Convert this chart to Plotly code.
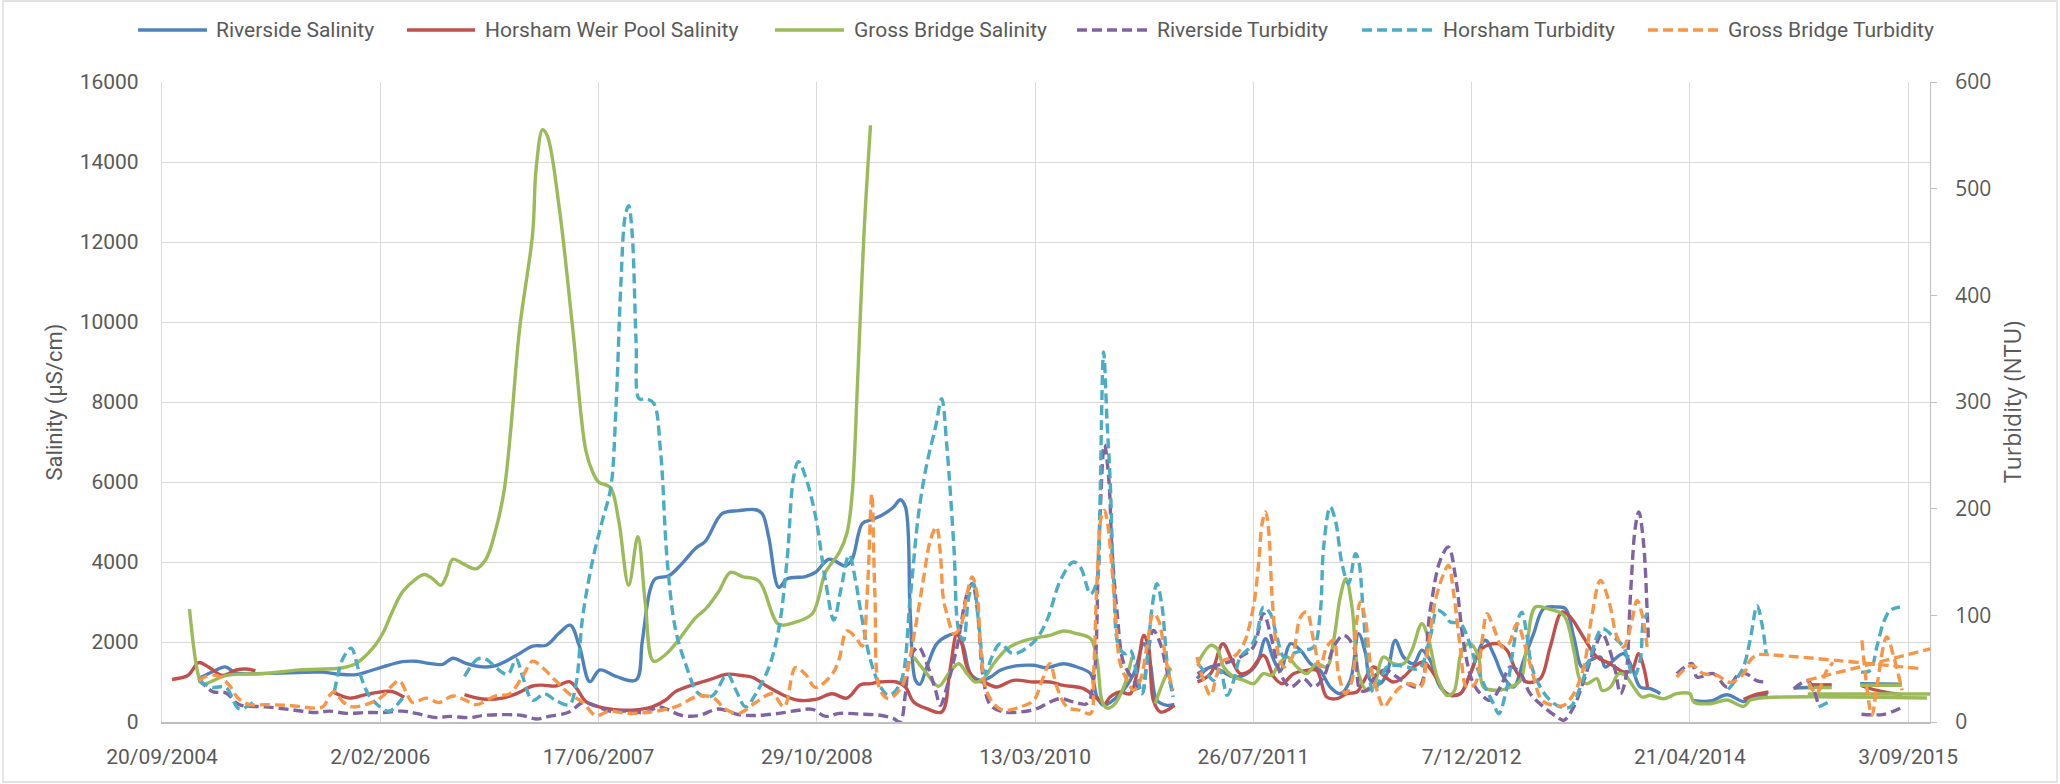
import plotly.graph_objects as go

# ---------------------------------------------------------------------------
# Monitoring data: (sample date, value).  (None, None) marks a break in a record.
# Salinity in uS/cm (left axis), turbidity in NTU (right axis).
# ---------------------------------------------------------------------------
GAP = (None, None)

riverside_salinity = [
    ("2004-12-13", 1085), ("2005-01-22", 1300), ("2005-02-12", 1378), ("2005-03-09", 1226),
    ("2005-05-16", 1215), ("2005-09-23", 1248), ("2005-10-31", 1193), ("2005-12-09", 1183),
    ("2005-12-31", 1248), ("2006-02-08", 1378), ("2006-03-25", 1508), ("2006-04-25", 1519),
    ("2006-05-25", 1465), ("2006-06-25", 1443), ("2006-07-18", 1595), ("2006-08-17", 1465),
    ("2006-09-25", 1378), ("2006-10-25", 1410), ("2006-12-10", 1660), ("2007-01-17", 1899),
    ("2007-02-17", 1920), ("2007-03-19", 2224), ("2007-04-13", 2420), ("2007-05-04", 1899),
    ("2007-05-28", 1009), ("2007-06-20", 1302), ("2007-07-27", 1139), ("2007-09-11", 1052),
    ("2007-09-25", 2000), ("2007-10-13", 3300), ("2007-10-25", 3580), ("2007-11-25", 3656),
    ("2007-12-25", 3960), ("2008-01-25", 4339), ("2008-02-17", 4524), ("2008-03-26", 5208),
    ("2008-05-03", 5284), ("2008-06-11", 5306), ("2008-06-26", 5208), ("2008-07-11", 4611),
    ("2008-08-03", 3364), ("2008-08-22", 3580), ("2008-10-03", 3635), ("2008-10-26", 3743),
    ("2008-11-26", 4069), ("2009-01-03", 3906), ("2009-01-18", 4069), ("2009-02-10", 4958),
    ("2009-03-01", 5050), ("2009-03-27", 5170), ("2009-04-23", 5375), ("2009-05-08", 5558),
    ("2009-05-20", 5375), ("2009-05-31", 2708), ("2009-06-12", 1042), ("2009-06-22", 942),
    ("2009-07-08", 1375), ("2009-07-31", 1958), ("2009-08-27", 2167), ("2009-09-15", 2208),
    ("2009-09-30", 1875), ("2009-10-16", 1208), ("2009-11-08", 1042), ("2009-12-01", 1125),
    ("2009-12-23", 1292), ("2010-01-22", 1392), ("2010-03-10", 1417), ("2010-04-09", 1358),
    ("2010-05-17", 1458), ("2010-06-17", 1375), ("2010-07-18", 1208), ("2010-08-02", 625),
    ("2010-08-17", 417), ("2010-09-24", 708), ("2010-10-25", 1208), ("2010-11-17", 1958),
    ("2010-12-02", 1458), ("2010-12-17", 542), ("2011-01-09", 417), ("2011-01-26", 442),
    GAP,
    ("2011-03-19", 1083), ("2011-04-19", 1375), ("2011-05-11", 1292), ("2011-06-11", 1125),
    ("2011-07-11", 1208), ("2011-08-03", 1458), ("2011-08-23", 2083), ("2011-09-11", 1542),
    ("2011-09-26", 1292), ("2011-10-19", 1958), ("2011-11-11", 1792), ("2011-12-04", 1458),
    ("2011-12-26", 1292), ("2012-01-18", 875), ("2012-02-10", 708), ("2012-03-04", 1042),
    ("2012-03-23", 2208), ("2012-04-08", 1708), ("2012-04-19", 1042), ("2012-05-11", 958),
    ("2012-05-27", 1208), ("2012-06-15", 2042), ("2012-07-04", 1625), ("2012-07-27", 1458),
    ("2012-08-15", 1792), ("2012-09-03", 1542), ("2012-09-26", 875), ("2012-10-19", 667),
    ("2012-11-11", 708), ("2012-12-04", 1208), ("2013-01-07", 2042), ("2013-01-26", 1708),
    ("2013-02-18", 1125), ("2013-03-13", 875), ("2013-04-05", 1542), ("2013-04-28", 2208),
    ("2013-05-21", 2833), ("2013-06-21", 2875), ("2013-07-10", 2833), ("2013-07-29", 2125),
    ("2013-08-17", 1375), ("2013-09-05", 1542), ("2013-09-28", 1625), ("2013-10-09", 1375),
    ("2013-10-28", 1542), ("2013-11-20", 1708), ("2013-12-09", 1375), ("2013-12-28", 875),
    ("2014-01-20", 833), ("2014-02-12", 708),
    GAP,
    ("2014-04-26", 542), ("2014-06-07", 525), ("2014-07-15", 680), ("2014-08-22", 510),
    ("2014-09-13", 600), ("2014-10-16", 705),
    GAP,
    ("2014-12-15", 850), ("2015-03-10", 880),
    GAP,
    ("2015-05-16", 955), ("2015-08-19", 945),
]

horsham_salinity = [
    ("2004-10-13", 1063), ("2004-11-18", 1161), ("2004-11-29", 1302), ("2004-12-13", 1486),
    ("2005-01-07", 1356), ("2005-02-06", 1161), ("2005-03-09", 1302), ("2005-04-01", 1324),
    ("2005-04-22", 1280),
    GAP,
    ("2005-10-15", 760), ("2005-11-23", 597), ("2005-12-31", 684), ("2006-02-08", 760),
    ("2006-03-02", 760), ("2006-03-29", 618),
    GAP,
    ("2006-08-14", 684), ("2006-09-25", 575), ("2006-11-09", 597), ("2006-12-10", 705),
    ("2007-01-17", 900), ("2007-02-07", 922), ("2007-03-11", 900), ("2007-04-11", 1009),
    ("2007-04-26", 868), ("2007-05-19", 510), ("2007-06-18", 380), ("2007-08-02", 304),
    ("2007-09-09", 304), ("2007-10-18", 380), ("2007-11-17", 543), ("2007-12-10", 760),
    ("2008-01-17", 922), ("2008-02-25", 1052), ("2008-04-07", 1193), ("2008-05-11", 1161),
    ("2008-06-03", 1118), ("2008-07-11", 868), ("2008-08-18", 651), ("2008-09-17", 543),
    ("2008-10-26", 564), ("2008-12-03", 705), ("2009-01-06", 597), ("2009-02-06", 930),
    ("2009-03-01", 958), ("2009-03-23", 1000), ("2009-04-30", 1000), ("2009-05-20", 875),
    ("2009-06-08", 500), ("2009-07-08", 333), ("2009-08-11", 250), ("2009-08-30", 1292),
    ("2009-09-15", 2208), ("2009-09-26", 1958), ("2009-10-08", 1375), ("2009-10-27", 1042),
    ("2009-11-15", 1000), ("2009-12-15", 875), ("2010-01-22", 1042), ("2010-03-10", 1000),
    ("2010-04-16", 1000), ("2010-05-17", 917), ("2010-07-02", 833), ("2010-08-02", 583),
    ("2010-08-19", 450), ("2010-09-01", 625), ("2010-09-24", 750), ("2010-10-17", 708),
    ("2010-11-01", 1208), ("2010-11-17", 2167), ("2010-11-28", 1875), ("2010-12-09", 542),
    ("2010-12-25", 250), ("2011-01-09", 292), ("2011-01-26", 417),
    GAP,
    ("2011-03-20", 1000), ("2011-04-19", 1208), ("2011-05-17", 1958), ("2011-06-07", 1542),
    ("2011-06-26", 1208), ("2011-07-19", 1292), ("2011-08-18", 1667), ("2011-09-11", 1125),
    ("2011-09-30", 958), ("2011-10-26", 1208), ("2011-11-25", 1292), ("2011-12-18", 1292),
    ("2012-01-10", 625), ("2012-02-02", 583), ("2012-02-25", 708), ("2012-03-19", 750),
    ("2012-04-03", 1000), ("2012-04-26", 1375), ("2012-05-19", 1167), ("2012-06-11", 1000),
    ("2012-07-04", 1125), ("2012-07-27", 1375), ("2012-08-19", 1500), ("2012-09-11", 1208),
    ("2012-10-11", 708), ("2012-11-11", 708), ("2012-12-04", 1208), ("2012-12-30", 1833),
    ("2013-02-03", 1958), ("2013-02-26", 1792), ("2013-03-20", 1250), ("2013-04-12", 1000),
    ("2013-05-13", 1083), ("2013-06-05", 1875), ("2013-07-02", 2750), ("2013-07-21", 2625),
    ("2013-08-20", 2125), ("2013-09-20", 1625), ("2013-10-20", 1458), ("2013-11-20", 1250),
    ("2013-12-09", 1292), ("2013-12-24", 1708), ("2014-01-05", 1375), ("2014-01-14", 875),
    GAP,
    ("2014-08-22", 560), ("2014-09-13", 667), ("2014-10-18", 750),
    GAP,
    ("2015-01-17", 930), ("2015-03-12", 930),
    GAP,
    ("2015-05-20", 900), ("2015-07-01", 770), ("2015-08-19", 680),
]

gross_bridge_salinity = [
    ("2004-11-22", 2821), ("2004-12-13", 1139), ("2004-12-22", 955), ("2005-02-13", 1161),
    ("2005-05-16", 1215), ("2005-08-01", 1302), ("2005-11-08", 1356), ("2005-12-09", 1465),
    ("2006-01-16", 1845), ("2006-02-08", 2224), ("2006-03-02", 2767), ("2006-03-25", 3255),
    ("2006-04-25", 3581), ("2006-05-14", 3689), ("2006-06-02", 3581), ("2006-06-21", 3418),
    ("2006-07-03", 3635), ("2006-07-18", 4069), ("2006-08-10", 3960), ("2006-09-09", 3830),
    ("2006-10-02", 4069), ("2006-10-25", 4828), ("2006-11-13", 5805), ("2006-11-28", 7324),
    ("2006-12-18", 9819), ("2007-01-17", 12206), ("2007-01-25", 13834), ("2007-02-09", 14810),
    ("2007-02-20", 14648), ("2007-03-19", 12857), ("2007-04-19", 9819), ("2007-05-19", 6781),
    ("2007-06-04", 6239), ("2007-06-17", 6000), ("2007-07-14", 5858), ("2007-08-02", 5045),
    ("2007-08-25", 3418), ("2007-09-15", 4633), ("2007-10-02", 2984), ("2007-10-21", 1519),
    ("2007-11-17", 1682), ("2007-12-14", 2007), ("2008-01-25", 2604), ("2008-02-17", 2821),
    ("2008-03-18", 3255), ("2008-04-14", 3743), ("2008-05-11", 3635), ("2008-06-18", 3526),
    ("2008-08-03", 2441), ("2008-09-10", 2496), ("2008-10-19", 2713), ("2008-11-18", 3743),
    ("2008-12-19", 4231), ("2009-01-06", 4720), ("2009-01-18", 5696), ("2009-01-30", 8409),
    ("2009-02-14", 12206), ("2009-03-01", 14919),
    GAP,
    ("2009-06-08", 1625), ("2009-07-08", 1208), ("2009-08-04", 892), ("2009-08-27", 1208),
    ("2009-09-19", 1458), ("2009-10-08", 1208), ("2009-10-27", 1000), ("2009-11-15", 1083),
    ("2009-12-08", 1458), ("2010-01-08", 1833), ("2010-02-07", 2000), ("2010-03-17", 2108),
    ("2010-04-16", 2167), ("2010-05-17", 2275), ("2010-06-17", 2208), ("2010-07-18", 2083),
    ("2010-08-02", 1542), ("2010-08-13", 542), ("2010-08-24", 350), ("2010-09-09", 420),
    ("2010-10-02", 875), ("2010-10-21", 1625),
    GAP,
    ("2010-12-13", 458), ("2011-01-09", 1208), ("2011-01-19", 1350),
    GAP,
    ("2011-03-20", 1458), ("2011-04-19", 1917), ("2011-05-04", 1833), ("2011-05-19", 1375),
    ("2011-06-11", 1125), ("2011-07-04", 1042), ("2011-07-26", 958), ("2011-08-18", 1208),
    ("2011-09-07", 1167), ("2011-09-18", 1375), ("2011-10-11", 1625), ("2011-11-03", 1375),
    ("2011-11-25", 1208), ("2011-12-18", 1458), ("2012-01-10", 1375), ("2012-01-26", 2042),
    ("2012-02-10", 3125), ("2012-02-23", 3583), ("2012-03-08", 2875), ("2012-03-23", 1208),
    ("2012-04-11", 792), ("2012-04-26", 875), ("2012-05-19", 1625), ("2012-06-11", 1458),
    ("2012-07-04", 1458), ("2012-07-23", 1792), ("2012-08-15", 2458), ("2012-08-31", 2042),
    ("2012-09-19", 1125), ("2012-10-11", 667), ("2012-10-27", 750), ("2012-11-15", 1792),
    ("2012-12-04", 1958), ("2012-12-23", 1625), ("2013-01-03", 875), ("2013-02-03", 792),
    ("2013-03-06", 875), ("2013-03-29", 1042), ("2013-04-12", 1875), ("2013-05-02", 2875),
    ("2013-05-29", 2833), ("2013-07-06", 2667), ("2013-07-29", 1792), ("2013-08-13", 1042),
    ("2013-08-28", 958), ("2013-09-20", 1083), ("2013-10-02", 792), ("2013-10-21", 875),
    ("2013-11-09", 1208), ("2013-11-24", 1167), ("2013-12-13", 875), ("2014-01-01", 625),
    ("2014-01-20", 667), ("2014-02-20", 583), ("2014-03-22", 708), ("2014-04-21", 708),
    ("2014-04-30", 500), ("2014-06-07", 458), ("2014-07-15", 550), ("2014-08-22", 392),
    ("2014-09-06", 542), ("2014-09-29", 600), ("2015-10-16", 600),
    GAP,
    ("2015-01-16", 700), ("2015-10-26", 700),
    GAP,
    ("2015-01-16", 860), ("2015-03-12", 860),
    GAP,
    ("2015-05-16", 920), ("2015-08-19", 920),
]

riverside_turbidity = [
    ("2004-12-13", 40.7), ("2005-01-14", 28.5), ("2005-02-13", 27.3), ("2005-03-16", 16.3),
    ("2005-05-16", 14.2), ("2005-07-16", 11.4), ("2005-09-08", 8.9), ("2005-10-08", 10.2),
    ("2005-11-16", 8.1), ("2005-12-31", 8.9), ("2006-02-08", 8.9), ("2006-03-25", 10.2),
    ("2006-04-25", 8.1), ("2006-06-10", 4.1), ("2006-07-10", 5.3), ("2006-08-25", 4.1),
    ("2006-09-25", 6.1), ("2006-11-25", 6.9), ("2006-12-25", 6.1), ("2007-01-25", 2.8),
    ("2007-02-24", 5.3), ("2007-04-11", 9.4), ("2007-05-12", 18.3), ("2007-06-04", 16.3),
    ("2007-07-12", 10.2), ("2007-08-19", 10.2), ("2007-10-04", 8.9), ("2007-11-02", 14.2),
    ("2007-12-25", 6.1), ("2008-02-02", 6.1), ("2008-03-18", 12.2), ("2008-05-03", 6.9),
    ("2008-06-11", 6.1), ("2008-08-03", 8.1), ("2008-09-17", 11.0), ("2008-10-19", 11.8),
    ("2008-11-18", 5.3), ("2008-12-19", 8.1), ("2009-02-03", 7.5), ("2009-03-23", 6.3),
    ("2009-04-23", 3.1), ("2009-05-08", 0.0), ("2009-05-20", 26.6), ("2009-05-31", 61.0),
    ("2009-06-19", 70.3), ("2009-07-08", 54.7), ("2009-07-28", 29.7), ("2009-08-08", 15.6),
    ("2009-08-23", 32.8), ("2009-09-15", 70.3), ("2009-10-08", 120.0), ("2009-10-20", 130.0),
    ("2009-10-31", 107.8), ("2009-11-15", 39.0), ("2009-12-01", 15.6), ("2009-12-31", 9.4),
    ("2010-02-07", 9.4), ("2010-03-17", 12.5), ("2010-04-16", 18.8), ("2010-05-10", 21.9),
    ("2010-06-09", 18.8), ("2010-07-10", 17.2), ("2010-07-25", 39.0), ("2010-08-06", 164.0),
    ("2010-08-19", 260.0), ("2010-08-29", 227.0), ("2010-09-05", 164.0), ("2010-09-17", 102.0),
    ("2010-10-02", 55.0), ("2010-10-25", 39.0), ("2010-11-13", 26.6), ("2010-11-24", 57.8),
    ("2010-12-09", 85.9), ("2010-12-25", 73.4), ("2011-01-09", 48.4), ("2011-01-23", 26.6),
    GAP,
    ("2011-03-20", 45.3), ("2011-04-19", 51.6), ("2011-05-19", 54.7), ("2011-06-26", 61.0),
    ("2011-07-26", 70.3), ("2011-08-18", 101.6), ("2011-09-03", 82.8), ("2011-09-26", 45.3),
    ("2011-10-19", 32.8), ("2011-11-18", 40.6), ("2011-12-11", 32.8), ("2012-01-03", 42.2),
    ("2012-01-26", 70.3), ("2012-02-18", 81.3), ("2012-03-12", 70.3), ("2012-03-27", 29.7),
    ("2012-04-11", 29.7), ("2012-05-04", 45.3), ("2012-05-27", 48.4), ("2012-06-19", 42.2),
    ("2012-07-12", 35.9), ("2012-08-09", 33.0), ("2012-09-03", 104.7), ("2012-09-26", 151.6),
    ("2012-10-15", 164.0), ("2012-10-31", 136.0), ("2012-11-19", 73.4), ("2012-12-08", 39.0),
    ("2012-12-27", 26.6), ("2013-01-19", 20.3), ("2013-02-11", 32.8), ("2013-03-06", 51.6),
    ("2013-03-29", 45.3), ("2013-04-20", 26.6), ("2013-05-21", 14.1), ("2013-06-21", 4.7),
    ("2013-07-06", 1.6), ("2013-07-29", 14.1), ("2013-08-21", 39.0), ("2013-09-16", 70.3),
    ("2013-10-02", 82.8), ("2013-10-17", 70.3), ("2013-11-01", 48.4), ("2013-11-13", 26.6),
    ("2013-11-24", 39.0), ("2013-12-06", 120.0), ("2013-12-17", 182.8), ("2013-12-25", 196.9),
    ("2014-01-05", 167.0), ("2014-01-13", 104.7), ("2014-01-16", 76.0),
    GAP,
    ("2014-03-22", 45.3), ("2014-04-26", 54.7), ("2014-05-07", 42.2), ("2014-06-14", 45.3),
    ("2014-07-15", 32.8), ("2014-08-14", 46.0), ("2014-08-29", 45.0), ("2014-09-22", 38.6),
    ("2014-10-16", 37.5),
    GAP,
    ("2014-12-15", 31.0), ("2015-01-16", 38.5), ("2015-02-08", 18.0),
    GAP,
    ("2015-05-19", 7.3), ("2015-07-09", 7.2), ("2015-08-16", 13.0),
]

horsham_turbidity = [
    ("2004-12-13", 38.6), ("2005-01-14", 32.5), ("2005-02-13", 32.5), ("2005-03-16", 12.2),
    ("2005-04-16", 18.3),
    GAP,
    ("2005-10-20", 28.5), ("2005-11-08", 59.0), ("2005-11-27", 69.2), ("2005-12-16", 46.8),
    ("2006-01-08", 24.4), ("2006-02-08", 12.2), ("2006-02-23", 10.2), ("2006-03-25", 22.4),
    GAP,
    ("2006-08-14", 42.7), ("2006-09-13", 59.0), ("2006-10-02", 59.0), ("2006-10-25", 50.9),
    ("2006-11-21", 44.7), ("2006-12-10", 59.0), ("2006-12-25", 42.7), ("2007-01-17", 20.3),
    ("2007-02-13", 26.4), ("2007-03-11", 20.3), ("2007-04-11", 16.3), ("2007-04-26", 34.6),
    ("2007-05-12", 99.7), ("2007-06-04", 152.6), ("2007-06-26", 189.2), ("2007-07-15", 219.7),
    ("2007-07-27", 295.0), ("2007-08-07", 409.0), ("2007-08-17", 474.0), ("2007-08-25", 484.0),
    ("2007-09-02", 458.0), ("2007-09-11", 356.0), ("2007-09-18", 303.0), ("2007-10-02", 303.0),
    ("2007-10-21", 299.0), ("2007-11-06", 254.0), ("2007-11-21", 152.6), ("2007-12-10", 87.5),
    ("2008-01-02", 54.9), ("2008-02-02", 26.4), ("2008-03-03", 24.4), ("2008-04-07", 44.7),
    ("2008-04-26", 30.5), ("2008-05-19", 14.2), ("2008-06-11", 26.4), ("2008-07-11", 50.9),
    ("2008-08-03", 87.5), ("2008-08-22", 152.6), ("2008-09-06", 230.0), ("2008-09-17", 244.0),
    ("2008-10-03", 230.0), ("2008-10-26", 193.0), ("2008-11-18", 132.0), ("2008-12-07", 95.6),
    ("2008-12-23", 124.0), ("2009-01-11", 156.6), ("2009-01-26", 132.0), ("2009-02-06", 105.0),
    ("2009-03-01", 57.8), ("2009-03-24", 32.8), ("2009-04-12", 25.0), ("2009-05-08", 35.9),
    ("2009-05-31", 117.0), ("2009-06-19", 195.0), ("2009-07-08", 242.0), ("2009-07-28", 276.6),
    ("2009-08-11", 303.0), ("2009-08-23", 257.8), ("2009-09-08", 164.0), ("2009-09-19", 86.0),
    ("2009-09-30", 76.6), ("2009-10-12", 117.0), ("2009-10-23", 129.7), ("2009-11-04", 92.0),
    ("2009-11-19", 45.3), ("2009-12-04", 61.0), ("2009-12-23", 73.4), ("2010-01-22", 64.0),
    ("2010-03-10", 75.0), ("2010-04-09", 95.3), ("2010-05-10", 132.8), ("2010-06-09", 150.0),
    ("2010-06-25", 145.0), ("2010-07-18", 120.0), ("2010-08-02", 132.8), ("2010-08-08", 195.0),
    ("2010-08-17", 347.0), ("2010-08-25", 280.0), ("2010-09-01", 226.6), ("2010-09-09", 133.0),
    ("2010-09-21", 70.3), ("2010-10-06", 64.0), ("2010-10-17", 67.2), ("2010-11-01", 45.3),
    ("2010-11-13", 26.6), ("2010-11-24", 54.7), ("2010-12-06", 107.8), ("2010-12-17", 129.7),
    ("2010-12-29", 107.8), ("2011-01-09", 57.8), ("2011-01-23", 23.4),
    GAP,
    ("2011-03-20", 54.7), ("2011-04-11", 45.3), ("2011-04-26", 39.0), ("2011-05-11", 48.4),
    ("2011-05-27", 25.0), ("2011-06-11", 39.0), ("2011-06-26", 61.0), ("2011-07-19", 70.3),
    ("2011-08-03", 82.8), ("2011-08-18", 107.8), ("2011-09-03", 101.6), ("2011-09-18", 79.7),
    ("2011-10-04", 61.0), ("2011-10-23", 64.0), ("2011-11-18", 67.2), ("2011-12-11", 70.3),
    ("2011-12-26", 101.6), ("2012-01-03", 164.0), ("2012-01-18", 201.6), ("2012-01-30", 189.0),
    ("2012-02-14", 148.4), ("2012-02-29", 129.7), ("2012-03-16", 157.8), ("2012-03-23", 151.6),
    ("2012-04-03", 101.6), ("2012-04-15", 45.3), ("2012-04-26", 28.0), ("2012-05-11", 39.0),
    ("2012-05-27", 51.6), ("2012-06-19", 53.1), ("2012-07-12", 51.6), ("2012-08-09", 50.0),
    ("2012-09-03", 79.7), ("2012-09-19", 104.7), ("2012-10-04", 101.6), ("2012-10-19", 93.8),
    ("2012-11-11", 92.2), ("2012-11-30", 76.6), ("2012-12-19", 51.6), ("2013-01-07", 32.8),
    ("2013-01-26", 17.2), ("2013-02-07", 7.8), ("2013-02-26", 32.8), ("2013-03-13", 70.3),
    ("2013-03-25", 98.4), ("2013-04-01", 103.0), ("2013-04-12", 82.8), ("2013-04-24", 51.6),
    ("2013-05-13", 32.8), ("2013-06-05", 20.3), ("2013-06-28", 14.1), ("2013-07-21", 14.1),
    ("2013-08-13", 32.8), ("2013-09-05", 61.0), ("2013-10-02", 87.5), ("2013-10-28", 79.7),
    ("2013-11-20", 70.3), ("2013-12-13", 42.2), ("2013-12-28", 57.8), ("2014-01-05", 95.3),
    ("2014-01-14", 101.6),
    GAP,
    ("2014-07-18", 30.5), ("2014-08-20", 50.0), ("2014-09-06", 77.0), ("2014-09-22", 109.0),
    ("2014-10-03", 92.0), ("2014-10-13", 63.0),
    GAP,
    ("2015-02-10", 14.0), ("2015-03-05", 18.8),
    GAP,
    ("2015-05-18", 46.8), ("2015-06-08", 48.4), ("2015-06-23", 70.0), ("2015-07-09", 93.8),
    ("2015-07-24", 104.7), ("2015-08-15", 107.8),
]

gross_bridge_turbidity = [
    ("2004-12-13", 38.6), ("2004-12-30", 42.7), ("2005-01-25", 43.5), ("2005-02-21", 34.6),
    ("2005-03-13", 22.4), ("2005-04-08", 16.3), ("2005-05-16", 16.3), ("2005-07-09", 15.5),
    ("2005-09-23", 14.2), ("2005-10-08", 24.4), ("2005-10-20", 28.5), ("2005-11-08", 19.1),
    ("2005-12-01", 14.2), ("2006-01-08", 17.5), ("2006-02-08", 24.4), ("2006-03-02", 34.6),
    ("2006-03-18", 38.6), ("2006-04-02", 28.5), ("2006-04-17", 18.3), ("2006-05-18", 22.4),
    ("2006-06-17", 18.3), ("2006-07-18", 24.4), ("2006-08-17", 20.3), ("2006-09-09", 16.3),
    ("2006-10-25", 24.4), ("2006-11-25", 26.4), ("2006-12-25", 42.7), ("2007-01-17", 57.0),
    ("2007-02-09", 50.9), ("2007-03-11", 38.6), ("2007-04-11", 26.4), ("2007-05-12", 18.3),
    ("2007-06-11", 6.1), ("2007-07-12", 10.2), ("2007-08-19", 8.1), ("2007-10-04", 8.9),
    ("2007-12-10", 14.2), ("2008-02-02", 24.4), ("2008-03-07", 22.4), ("2008-04-02", 12.2),
    ("2008-05-03", 8.1), ("2008-06-11", 18.3), ("2008-07-19", 26.4), ("2008-08-15", 14.2),
    ("2008-09-10", 50.9), ("2008-10-03", 44.7), ("2008-10-26", 32.5), ("2008-12-03", 44.7),
    ("2008-12-19", 59.0), ("2009-01-06", 85.4), ("2009-01-26", 79.3), ("2009-02-10", 71.2),
    ("2009-02-21", 117.0), ("2009-03-04", 214.0), ("2009-03-11", 120.0), ("2009-03-23", 30.0),
    ("2009-04-12", 22.0), ("2009-05-10", 32.0), ("2009-05-24", 48.4), ("2009-06-12", 89.0),
    ("2009-07-01", 136.0), ("2009-07-16", 170.3), ("2009-07-30", 182.8), ("2009-08-08", 157.8),
    ("2009-08-15", 115.0), ("2009-08-23", 101.6), ("2009-09-08", 82.8), ("2009-09-23", 89.0),
    ("2009-10-08", 120.0), ("2009-10-20", 136.0), ("2009-10-31", 120.0), ("2009-11-08", 70.3),
    ("2009-11-19", 32.8), ("2009-12-08", 17.2), ("2009-12-31", 10.9), ("2010-02-07", 14.1),
    ("2010-03-10", 20.3), ("2010-03-29", 39.0), ("2010-04-16", 54.7), ("2010-05-02", 32.8),
    ("2010-05-25", 14.1), ("2010-06-25", 10.9), ("2010-07-18", 7.8), ("2010-07-25", 45.3),
    ("2010-08-02", 132.8), ("2010-08-13", 195.0), ("2010-08-19", 198.4), ("2010-08-25", 189.0),
    ("2010-09-01", 164.0), ("2010-09-13", 101.6), ("2010-09-24", 54.7), ("2010-10-10", 39.0),
    ("2010-10-25", 29.7), ("2010-11-09", 39.0), ("2010-11-24", 70.3), ("2010-12-09", 101.6),
    ("2010-12-21", 95.3), ("2011-01-02", 70.3), ("2011-01-13", 45.3), ("2011-01-23", 29.7),
    GAP,
    ("2011-03-19", 61.0), ("2011-04-03", 39.0), ("2011-04-19", 25.0), ("2011-05-04", 45.3),
    ("2011-05-19", 57.8), ("2011-06-11", 61.0), ("2011-07-04", 73.4), ("2011-07-26", 107.8),
    ("2011-08-07", 148.4), ("2011-08-15", 186.0), ("2011-08-23", 196.9), ("2011-08-30", 179.7),
    ("2011-09-07", 117.2), ("2011-09-18", 70.3), ("2011-10-04", 51.6), ("2011-10-23", 61.0),
    ("2011-11-11", 98.4), ("2011-11-25", 103.0), ("2011-12-11", 76.6), ("2011-12-26", 51.6),
    ("2012-01-10", 70.3), ("2012-01-26", 76.6), ("2012-02-06", 45.3), ("2012-02-22", 26.6),
    ("2012-03-08", 39.0), ("2012-03-19", 95.3), ("2012-03-27", 112.5), ("2012-04-08", 95.3),
    ("2012-04-19", 54.7), ("2012-05-04", 29.7), ("2012-05-20", 14.1), ("2012-06-04", 21.9),
    ("2012-06-27", 32.8), ("2012-07-20", 35.9), ("2012-08-12", 32.8), ("2012-08-27", 64.0),
    ("2012-09-15", 114.0), ("2012-10-04", 139.0), ("2012-10-15", 146.9), ("2012-10-27", 120.0),
    ("2012-11-11", 70.3), ("2012-11-26", 32.8), ("2012-12-15", 35.9), ("2012-12-31", 76.6),
    ("2013-01-11", 101.6), ("2013-01-26", 89.0), ("2013-02-15", 70.3), ("2013-03-02", 73.4),
    ("2013-03-21", 92.2), ("2013-04-09", 70.3), ("2013-04-28", 42.2), ("2013-05-17", 20.3),
    ("2013-06-13", 15.6), ("2013-07-06", 15.6), ("2013-07-29", 26.6), ("2013-08-21", 51.6),
    ("2013-09-08", 98.4), ("2013-09-28", 132.8), ("2013-10-17", 114.0), ("2013-11-05", 79.7),
    ("2013-11-20", 70.3), ("2013-12-06", 89.0), ("2013-12-21", 114.0), ("2014-01-01", 101.6),
    ("2014-01-13", 70.3),
    GAP,
    ("2014-03-22", 42.2), ("2014-04-26", 53.1), ("2014-05-22", 45.3), ("2014-06-22", 43.8),
    ("2014-07-23", 37.0), ("2014-08-22", 45.3), ("2014-09-06", 57.8), ("2014-09-22", 63.0),
    ("2014-10-03", 63.4), ("2015-10-03", 50.0),
    GAP,
    ("2015-01-14", 39.0), ("2015-10-28", 69.0),
    GAP,
    ("2015-01-18", 37.0), ("2015-02-05", 27.0), ("2015-02-28", 48.0), ("2015-03-15", 56.0),
    GAP,
    ("2015-05-20", 76.6), ("2015-06-12", 6.3), ("2015-06-23", 32.8), ("2015-07-16", 79.7),
    ("2015-08-01", 61.0), ("2015-08-20", 29.7),
]

# series: name, records, colour, dashed?, axis
SERIES = [
    ("Riverside Salinity", riverside_salinity, "#4F81BD", False, "y"),
    ("Horsham Weir Pool Salinity", horsham_salinity, "#C0504D", False, "y"),
    ("Gross Bridge Salinity", gross_bridge_salinity, "#9BBB59", False, "y"),
    ("Riverside Turbidity", riverside_turbidity, "#8064A2", True, "y2"),
    ("Horsham Turbidity", horsham_turbidity, "#4BACC6", True, "y2"),
    ("Gross Bridge Turbidity", gross_bridge_turbidity, "#F79646", True, "y2"),
]

# axis settings
X_START, X_END = "2004-09-20", "2015-10-23"
X_STEP_DAYS = 500
SAL_MAX, SAL_STEP = 16000, 2000
TURB_MAX, TURB_STEP = 600, 100

# ---------------------------------------------------------------------------
W, H = 2060, 784
M_L, M_R, M_T, M_B = 162, 130, 82, 62
PLOT_W, PLOT_H = W - M_L - M_R, H - M_T - M_B

TEXT = "#595959"
GRID = "#D9D9D9"
AXIS = "#BFBFBF"
CAL = "Roboto, 'Liberation Sans', sans-serif"
SEG = "'Open Sans', 'Noto Sans', sans-serif"
LINE_W = 3.4
DASH = "10px,5px"


def px_to_paper(px, py):
    return (px - M_L) / PLOT_W, (H - M_B - py) / PLOT_H


fig = go.Figure()
for name, records, color, dashed, axis in SERIES:
    xs = [d for d, _ in records]
    ys = [v for _, v in records]
    fig.add_trace(go.Scatter(
        x=xs, y=ys, name=name, mode="lines", yaxis=axis, connectgaps=False,
        showlegend=False,
        line=dict(color=color, width=LINE_W, shape="spline", smoothing=1.0,
                  dash=DASH if dashed else "solid"),
    ))

# legend row across the top (key line start/end, text start, in pixels)
LEGEND_Y = 30
legend_keys = [(138, 207, 214), (407, 475, 483), (775, 844, 852),
               (1077, 1148, 1155), (1362, 1432, 1441), (1648, 1719, 1726)]
shapes = []
annotations = []
for (x0, x1, xt), (name, _, color, dashed, _) in zip(legend_keys, SERIES):
    p0, py = px_to_paper(x0, LEGEND_Y)
    p1, _ = px_to_paper(x1, LEGEND_Y)
    pt, _ = px_to_paper(xt, LEGEND_Y)
    shapes.append(dict(type="line", xref="paper", yref="paper", x0=p0, x1=p1, y0=py, y1=py,
                       line=dict(color=color, width=LINE_W, dash=DASH if dashed else "solid")))
    annotations.append(dict(xref="paper", yref="paper", x=pt, y=py, text=name, showarrow=False,
                            xanchor="left", yanchor="middle",
                            font=dict(family=CAL, size=21, color=TEXT)))

# chart-area border
bx0, by0 = px_to_paper(3, 782)
bx1, by1 = px_to_paper(2057, 1)
shapes.append(dict(type="rect", xref="paper", yref="paper", x0=bx0, x1=bx1, y0=by0, y1=by1,
                   line=dict(color=GRID, width=1.3), layer="below"))

fig.update_layout(
    width=W, height=H,
    margin=dict(l=M_L, r=M_R, t=M_T, b=M_B, pad=0),
    paper_bgcolor="white", plot_bgcolor="white",
    showlegend=False,
    shapes=shapes, annotations=annotations,
    xaxis=dict(
        type="date", range=[X_START, X_END],
        tick0=X_START, dtick=X_STEP_DAYS * 86400000, tickformat="%-d/%m/%Y",
        showgrid=True, gridcolor=GRID, gridwidth=1.3,
        showline=True, linecolor=AXIS, linewidth=1.6,
        ticks="", ticklabelstandoff=15,
        tickfont=dict(family=CAL, size=21, color=TEXT),
        zeroline=False,
    ),
    yaxis=dict(
        range=[0, SAL_MAX], dtick=SAL_STEP, tick0=0, tickformat="d",
        showgrid=True, gridcolor=GRID, gridwidth=1.3,
        showline=True, linecolor=GRID, linewidth=1.3,
        ticks="", ticklabelstandoff=18,
        tickfont=dict(family=CAL, size=21, color=TEXT),
        title=dict(text="Salinity (µS/cm)", standoff=10,
                   font=dict(family=CAL, size=22, color=TEXT)),
        zeroline=False,
    ),
    yaxis2=dict(
        overlaying="y", side="right",
        range=[0, TURB_MAX], dtick=TURB_STEP, tick0=0, tickformat="d",
        showgrid=False,
        showline=True, linecolor=AXIS, linewidth=1.3,
        ticks="outside", ticklen=6, tickcolor=AXIS, tickwidth=1.3,
        ticklabelstandoff=14,
        tickfont=dict(family=SEG, size=21, color=TEXT),
        title=dict(text="Turbidity (NTU)", standoff=14,
                   font=dict(family=SEG, size=23, color=TEXT)),
        zeroline=False,
    ),
)

fig.write_html("out.html")
